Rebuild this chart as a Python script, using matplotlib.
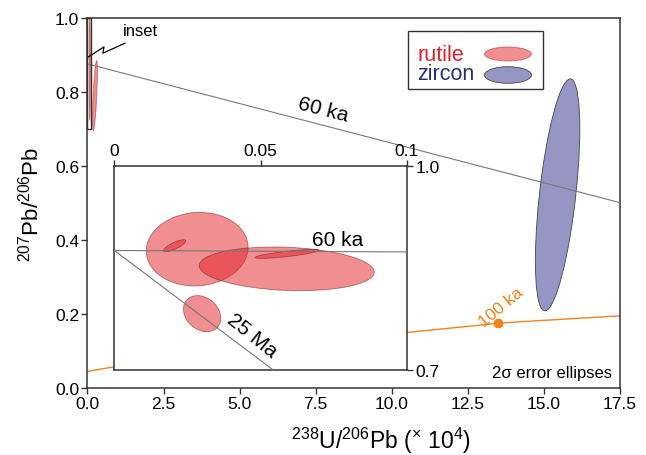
import numpy as np
import matplotlib
matplotlib.use("Agg")
import matplotlib.pyplot as plt
from matplotlib.patches import Ellipse, Rectangle
from matplotlib.transforms import Affine2D

plt.rcParams["font.family"] = ["Liberation Sans", "DejaVu Sans"]
plt.rcParams["mathtext.fontset"] = "custom"
plt.rcParams["mathtext.rm"] = "Liberation Sans"
plt.rcParams["mathtext.it"] = "Liberation Sans:italic"

# rutile in the inset: centre, 2-sigma half widths, error correlation
RUT_X = [0.0283, 0.0206, 0.0589, 0.0590, 0.0300]
RUT_SX = [0.0174, 0.0038, 0.0299, 0.0109, 0.0064]
RUT_Y = [0.878, 0.883, 0.849, 0.871, 0.783]
RUT_SY = [0.0542, 0.0089, 0.0322, 0.0066, 0.0266]
RUT_RHO = [0.05, 0.8, -0.15, 0.8, -0.25]

# rutile as drawn at the scale of the main panel
RUT_MAIN_X = [0.075, 0.246]
RUT_MAIN_SX = [0.02, 0.08]
RUT_MAIN_Y = [0.865, 0.790]
RUT_MAIN_SY = [0.14, 0.095]
RUT_MAIN_RHO = [0.0, 0.68]

# zircon
ZIR_X = [15.45]
ZIR_SX = [0.73]
ZIR_Y = [0.522]
ZIR_SY = [0.3135]
ZIR_RHO = [0.57]

# reference lines
ISO60_X = [0.0, 17.5]
ISO60_Y = [0.876, 0.501]
ISO25_X = [0.0, 0.0543]
ISO25_Y = [0.876, 0.70]
CONC_X = [0.02, 0.85, 2.5, 5.0, 7.5, 10.5, 13.5, 14.2, 17.5]
CONC_Y = [0.045, 0.057, 0.077, 0.102, 0.126, 0.150, 0.175, 0.179, 0.195]
DOT_X = [13.5]
DOT_Y = [0.175]

RED = "#e41e26"
PURPLE = "#9696c4"
ORANGE = "#f0821e"
DARK = "#333333"
GREY = "#777777"


def ellipse(ax, x, sx, y, sy, rho, **kw):
    m = Affine2D.from_values(sx, sy * rho, 0, sy * np.sqrt(1 - rho ** 2), x, y)
    ax.add_patch(Ellipse((0, 0), 2, 2, transform=m + ax.transData, **kw))


def style(ax, size):
    for s in ax.spines.values():
        s.set_color(DARK)
        s.set_linewidth(1.1)
    ax.tick_params(direction="out", length=4, width=1, color=DARK,
                   labelsize=size, pad=2)


fig = plt.figure(figsize=(6.46, 4.56), dpi=100)
ax = fig.add_axes([0.1354, 0.1469, 0.8243, 0.8114])
ax.set_xlim(0, 17.5)
ax.set_ylim(0, 1)
ax.set_xticks(np.arange(0, 17.6, 2.5))
ax.set_xticklabels([f"{v:.1f}" for v in np.arange(0, 17.6, 2.5)])
ax.set_yticks(np.arange(0, 1.01, 0.2))
ax.set_yticklabels([f"{v:.1f}" for v in np.arange(0, 1.01, 0.2)])
style(ax, 12.5)
ax.set_xlabel("$^{238}$U/$^{206}$Pb ($^{\\times}$ 10$^{4}$)", fontsize=16.5,
              labelpad=8)
ax.xaxis.set_label_coords(0.551, -0.1)
ax.set_ylabel("$^{207}$Pb/$^{206}$Pb", fontsize=16, labelpad=8)

ax.plot(CONC_X, CONC_Y, color=ORANGE, lw=1, zorder=2)
ax.plot(DOT_X, DOT_Y, "o", color=ORANGE, ms=6, zorder=3)
for i in range(len(ZIR_X)):
    ellipse(ax, ZIR_X[i], ZIR_SX[i], ZIR_Y[i], ZIR_SY[i], ZIR_RHO[i],
            fc=PURPLE, ec="#444444", lw=0.6, zorder=2)
for i in range(len(RUT_MAIN_X)):
    ellipse(ax, RUT_MAIN_X[i], RUT_MAIN_SX[i], RUT_MAIN_Y[i], RUT_MAIN_SY[i],
            RUT_MAIN_RHO[i], fc=RED, alpha=0.5, ec="#a01010", lw=0.6,
            zorder=2)
ax.plot(ISO60_X, ISO60_Y, color=GREY, lw=0.8, zorder=4)
ax.add_patch(Rectangle((0, 0.7), 0.1, 0.3, fill=False, ec=DARK, lw=1,
                       zorder=5, clip_on=False))
ax.plot([0.033, 0.542, 0.509, 1.232], [0.895, 0.922, 0.905, 0.932],
        color="black", lw=0.9, zorder=5)
ax.text(1.15, 0.965, "inset", fontsize=12, ha="left", va="center")
ax.text(7.75, 0.754, "60 ka", fontsize=15, rotation=-14.5, ha="center",
        va="center")
ax.text(13.1, 0.158, "100 ka", fontsize=12.5, color=ORANGE, rotation=40,
        ha="left", va="bottom", rotation_mode="anchor")
ax.text(0.985, 0.03, "2\u03c3 error ellipses", fontsize=12,
        transform=ax.transAxes, ha="right", va="baseline")

# legend box
ax.add_patch(Rectangle((0.6025, 0.808), 0.2535, 0.1577, fill=False,
                       ec=DARK, lw=1, transform=ax.transAxes, zorder=6))
ax.text(0.619, 0.9027, "rutile", color=RED, fontsize=15.5,
        transform=ax.transAxes, va="center", ha="left", zorder=6)
ax.text(0.619, 0.849, "zircon", color="#2b2b80", fontsize=15.5,
        transform=ax.transAxes, va="center", ha="left", zorder=6)
ax.add_patch(Ellipse((0.7897, 0.9027), 0.0883, 0.038, fc=RED, alpha=0.5,
                     ec="#a01010", lw=0.6, transform=ax.transAxes, zorder=6))
ax.add_patch(Ellipse((0.7897, 0.846), 0.0883, 0.045, fc=PURPLE,
                     ec="#444444", lw=0.6, transform=ax.transAxes, zorder=6))

# inset
axin = fig.add_axes([0.177, 0.1864, 0.453, 0.4467])
axin.set_xlim(0, 0.1)
axin.set_ylim(0.7, 1.0)
axin.xaxis.tick_top()
axin.yaxis.tick_right()
axin.set_xticks([0, 0.05, 0.1])
axin.set_xticklabels(["0", "0.05", "0.1"])
axin.set_yticks([0.7, 1.0])
axin.set_yticklabels(["0.7", "1.0"])
style(axin, 12.5)
for i in range(len(RUT_X)):
    ellipse(axin, RUT_X[i], RUT_SX[i], RUT_Y[i], RUT_SY[i], RUT_RHO[i],
            fc=RED, alpha=0.5, ec="#661010", lw=0.6, zorder=2)
axin.plot(ISO60_X, ISO60_Y, color=GREY, lw=0.8, zorder=3)
axin.plot(ISO25_X, ISO25_Y, color=GREY, lw=0.8, zorder=3)
axin.text(0.0763, 0.892, "60 ka", fontsize=15, ha="center", va="center")
axin.text(0.0472, 0.751, "25 Ma", fontsize=15, rotation=-39, ha="center",
          va="center")

fig.savefig("out.png", dpi=100)
